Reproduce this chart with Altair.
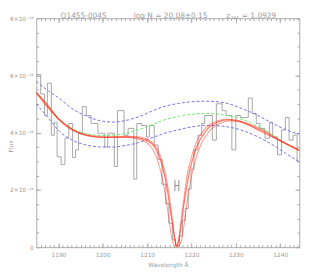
import altair as alt
import pandas as pd

# ---------------- data (flux in units of 1e-16) ----------------
hist_edges = [1185.0, 1186.0, 1186.87, 1187.5, 1188.4, 1189.06, 1189.7, 1190.6, 1191.47, 1192.34,
              1193.2, 1193.87, 1194.53, 1195.4, 1196.28, 1197.37, 1198.9, 1200.44, 1201.1, 1202.6,
              1203.3, 1204.8, 1205.7, 1207.0, 1207.66, 1208.75, 1209.85, 1210.5, 1211.6, 1212.47,
              1213.35, 1214.2, 1214.9, 1215.77, 1216.4, 1217.3, 1217.96, 1218.6, 1219.26, 1219.9,
              1220.57, 1221.45, 1222.3, 1222.97, 1224.7, 1225.6, 1226.9, 1227.8, 1229.1, 1229.97,
              1231.05, 1232.8, 1233.7, 1234.6, 1235.45, 1236.55, 1237.6, 1238.3, 1239.4, 1240.3,
              1241.16, 1242.0, 1242.9, 1243.8, 1244.3]
hist_flux = [6.03, 5.35, 4.6, 5.73, 3.91, 4.36, 3.16, 2.89, 3.81, 4.32,
             3.13, 3.40, 3.98, 4.91, 4.6, 4.32, 3.98, 3.5, 3.98, 2.82,
             4.77, 3.91, 4.15, 2.38, 4.32, 4.25, 3.85, 4.25, 3.57, 3.06,
             2.2, 1.52, 0.84, 0.26, 0.05, 0.39, 0.94, 1.35, 2.03, 2.72,
             3.4, 3.91, 4.32, 4.6, 3.74, 5.01, 4.77, 4.6, 3.4, 4.6,
             4.53, 5.21, 4.67, 4.32, 4.15, 3.81, 4.36, 3.85, 3.23, 4.09,
             4.53, 3.74, 3.91, 2.99]

cont_lambda = [1185.0, 1187.5, 1190.0, 1192.5, 1195.0, 1197.5, 1200.0, 1202.5, 1205.0, 1208.0, 1211.0,
               1214.0, 1217.0, 1220.0, 1223.0, 1226.0, 1229.0, 1232.0, 1235.0, 1238.0, 1241.0, 1244.3]
cont_flux = [5.42, 5.0, 4.5, 4.2, 4.02, 3.93, 3.9, 3.92, 3.97, 4.1, 4.27,
             4.45, 4.57, 4.64, 4.67, 4.65, 4.57, 4.43, 4.22, 3.95, 3.66, 3.4]

err_lambda = [1185.0, 1187.8, 1190.2, 1193.0, 1196.0, 1200.0, 1202.5, 1205.0, 1208.0, 1211.0, 1214.0,
              1217.0, 1220.0, 1223.0, 1226.0, 1229.0, 1232.0, 1235.0, 1238.0, 1241.0, 1244.3]
err_upper = [5.8, 5.45, 5.2, 4.85, 4.6, 4.4, 4.37, 4.42, 4.55, 4.75, 4.92,
             5.02, 5.08, 5.1, 5.08, 4.98, 4.8, 4.6, 4.35, 4.12, 3.95]
err_lower = [5.0, 4.5, 4.05, 3.75, 3.58, 3.5, 3.5, 3.55, 3.65, 3.82, 3.98,
             4.1, 4.2, 4.25, 4.24, 4.18, 4.05, 3.85, 3.6, 3.3, 2.98]

fit_lambda = [1185.0, 1187.5, 1190.0, 1192.5, 1195.0, 1197.5, 1200.0, 1202.5, 1205.0, 1207.5,
              1209.5, 1211.0, 1212.0, 1213.0, 1213.8, 1214.5, 1215.2, 1215.8, 1216.3, 1216.7,
              1217.1, 1217.6, 1218.2, 1218.9, 1219.7, 1220.5, 1221.5, 1222.5, 1224.0, 1226.0,
              1228.0, 1230.0, 1232.5, 1235.0, 1237.5, 1240.0, 1242.5, 1244.3]
fit_flux = [5.40, 4.98, 4.48, 4.16, 3.97, 3.87, 3.84, 3.84, 3.85, 3.83,
            3.76, 3.62, 3.42, 3.05, 2.6, 2.05, 1.35, 0.7, 0.2, 0.02,
            0.2, 0.7, 1.4, 2.1, 2.75, 3.2, 3.62, 3.9, 4.2, 4.38,
            4.45, 4.42, 4.3, 4.1, 3.9, 3.72, 3.52, 3.38]

wide_lambda = [1185.0, 1190.0, 1195.0, 1200.0, 1205.0, 1208.0, 1209.5, 1210.6, 1211.5, 1212.4,
               1213.2, 1213.9, 1214.6, 1215.2, 1215.7, 1216.3, 1216.7, 1217.1, 1217.7, 1218.2,
               1218.8, 1219.5, 1220.3, 1221.1, 1222.1, 1223.1, 1224.6, 1226.5, 1228.5, 1230.0,
               1233.0, 1236.0, 1240.0, 1244.3]
wide_flux = [5.40, 4.48, 3.96, 3.83, 3.83, 3.78, 3.70, 3.55, 3.35, 3.0,
             2.55, 2.0, 1.3, 0.65, 0.2, 0.03, 0.0, 0.03, 0.2, 0.65,
             1.35, 2.05, 2.7, 3.15, 3.58, 3.85, 4.15, 4.33, 4.41, 4.4,
             4.27, 4.07, 3.71, 3.38]

narrow_lambda = [1185.0, 1190.0, 1195.0, 1200.0, 1205.0, 1208.5, 1210.0, 1211.4, 1212.5, 1213.4,
                 1214.2, 1214.9, 1215.5, 1216.0, 1216.4, 1216.7, 1217.0, 1217.4, 1217.9, 1218.5,
                 1219.1, 1219.9, 1220.7, 1221.7, 1222.8, 1224.2, 1226.0, 1228.0, 1230.0, 1233.0,
                 1236.0, 1240.0, 1244.3]
narrow_flux = [5.40, 4.49, 3.98, 3.86, 3.87, 3.85, 3.78, 3.62, 3.38, 3.0,
               2.5, 1.9, 1.2, 0.6, 0.2, 0.06, 0.2, 0.6, 1.25, 1.95,
               2.6, 3.1, 3.5, 3.85, 4.1, 4.3, 4.42, 4.47, 4.44, 4.3,
               4.1, 3.73, 3.39]

bar_lambda = [1216.7]
bar_flux = [2.15]
bar_sigma = [0.19]

x_major = [1190, 1200, 1210, 1220, 1230, 1240]
x_minor = list(range(1186, 1245))
y_major = [0, 2, 4, 6, 8]
y_minor = [i * 0.5 for i in range(17)]

title_name = "Q1455-0045"
title_col = "log N = 20.08\u00b10.15"
title_z = ["z", "abs", "= 1.0929"]

X_DOMAIN = [1185.0, 1244.3]
Y_DOMAIN = [0, 8]

# ---------------- style ----------------
TXT = "#9c9c9c"
AXC = "#ababab"
FONT = "DejaVu Sans"
FITC = "#ff2a12"

xs = alt.Scale(domain=X_DOMAIN, nice=False, zero=False)
ys = alt.Scale(domain=Y_DOMAIN, nice=False, zero=False)


def ax(**kw):
    base = dict(domain=False, grid=False, labels=False, ticks=False, title=None)
    base.update(kw)
    return alt.Axis(**base)


def tick_axis(values, size, orient):
    return ax(ticks=True, tickSize=size, offset=-size, values=values, orient=orient,
              tickColor=AXC, tickWidth=1)


hist_df = pd.DataFrame({"lam": hist_edges, "flux": hist_flux + [hist_flux[-1]]})
cont_df = pd.DataFrame({"lam": cont_lambda, "flux": cont_flux})
up_df = pd.DataFrame({"lam": err_lambda, "flux": err_upper})
lo_df = pd.DataFrame({"lam": err_lambda, "flux": err_lower})
fit_df = pd.DataFrame({"lam": fit_lambda, "flux": fit_flux})
wide_df = pd.DataFrame({"lam": wide_lambda, "flux": wide_flux})
nar_df = pd.DataFrame({"lam": narrow_lambda, "flux": narrow_flux})
bar_df = pd.DataFrame({"lam": bar_lambda, "flux": bar_flux,
                       "lo": [f - s for f, s in zip(bar_flux, bar_sigma)],
                       "hi": [f + s for f, s in zip(bar_flux, bar_sigma)]})

x_lab_axis = ax(labels=True, values=x_major, orient="bottom", tickSize=0, labelPadding=5,
                format="d",
                labelFont=FONT, labelFontSize=6, labelColor=TXT,
                title="Wavelength \u00c5", titleFont=FONT, titleFontSize=6, titleColor=TXT,
                titleFontWeight="normal", titleX=135, titleY=19.5, titleBaseline="alphabetic")
y_lab_axis = ax(labels=True, values=y_major, orient="left", tickSize=0, labelPadding=3,
                labelFont=FONT, labelFontSize=6, labelColor=TXT,
                labelExpr="datum.value == 0 ? '0' : datum.value + '\u00d710\u207b\u00b9\u2076'",
                title="Flux", titleFont=FONT, titleFontSize=6, titleColor=TXT,
                titleFontWeight="normal", titleAngle=270, titleX=-26, titleY=131,
                titleAlign="center", titleBaseline="middle")

hist = alt.Chart(hist_df).mark_line(interpolate="step-after", color="#a6a6a6", strokeWidth=1, clip=True).encode(
    x=alt.X("lam:Q", scale=xs, axis=x_lab_axis),
    y=alt.Y("flux:Q", scale=ys, axis=y_lab_axis),
)

cont = alt.Chart(cont_df).mark_line(interpolate="monotone", color="#66ee66", strokeWidth=1,
                                    strokeDash=[3, 2], clip=True).encode(
    x=alt.X("lam:Q", scale=xs, axis=tick_axis(x_major, 4.5, "bottom")),
    y=alt.Y("flux:Q", scale=ys, axis=tick_axis(y_major, 4.5, "left")),
)

upper = alt.Chart(up_df).mark_line(interpolate="monotone", color="#7070ee", strokeWidth=1,
                                   strokeDash=[3, 2], clip=True).encode(
    x=alt.X("lam:Q", scale=xs, axis=tick_axis(x_minor, 2.5, "bottom")),
    y=alt.Y("flux:Q", scale=ys, axis=tick_axis(y_minor, 2.5, "left")),
)

lower = alt.Chart(lo_df).mark_line(interpolate="monotone", color="#7070ee", strokeWidth=1,
                                   strokeDash=[3, 2], clip=True).encode(
    x=alt.X("lam:Q", scale=xs, axis=tick_axis(x_major, 4.5, "top")),
    y=alt.Y("flux:Q", scale=ys, axis=tick_axis(y_major, 4.5, "right")),
)

wide = alt.Chart(wide_df).mark_line(interpolate="monotone", color=FITC, opacity=0.45,
                                    strokeWidth=1.1, clip=True).encode(
    x=alt.X("lam:Q", scale=xs, axis=tick_axis(x_minor, 2.5, "top")),
    y=alt.Y("flux:Q", scale=ys, axis=tick_axis(y_minor, 2.5, "right")),
)

narrow = alt.Chart(nar_df).mark_line(interpolate="monotone", color=FITC, opacity=0.45,
                                     strokeWidth=1.1, clip=True).encode(
    x=alt.X("lam:Q", scale=xs, axis=None),
    y=alt.Y("flux:Q", scale=ys, axis=None),
)

fit = alt.Chart(fit_df).mark_line(interpolate="monotone", color=FITC, opacity=0.6,
                                  strokeWidth=1.3, clip=True).encode(
    x=alt.X("lam:Q", scale=xs, axis=None),
    y=alt.Y("flux:Q", scale=ys, axis=None),
)

bar_l = alt.Chart(bar_df).mark_rule(color="#8c8c8c", strokeWidth=1, xOffset=-2).encode(
    x=alt.X("lam:Q", scale=xs, axis=None), y=alt.Y("lo:Q", scale=ys, axis=None), y2="hi:Q")
bar_r = alt.Chart(bar_df).mark_rule(color="#8c8c8c", strokeWidth=1, xOffset=2).encode(
    x=alt.X("lam:Q", scale=xs, axis=None), y=alt.Y("lo:Q", scale=ys, axis=None), y2="hi:Q")
bar_m = alt.Chart(bar_df).mark_rule(color="#8c8c8c", strokeWidth=1, xOffset=-2, x2Offset=2).encode(
    x=alt.X("lam:Q", scale=xs, axis=None), x2="lam:Q", y=alt.Y("flux:Q", scale=ys, axis=None))


def title_text(txt, xpos, ypos, size):
    return alt.Chart(pd.DataFrame({"t": [txt]})).mark_text(
        font=FONT, fontSize=size, color=TXT, align="left", baseline="alphabetic"
    ).encode(text="t:N", x=alt.value(xpos), y=alt.value(ypos))


titles = [
    title_text(title_name, 25, -0.5, 7.6),
    title_text(title_col, 100, -0.5, 7.6),
    title_text(title_z[0], 195, -0.5, 7.6),
    title_text(title_z[1], 200, 1.0, 4.5),
    title_text(title_z[2], 211, -0.5, 7.6),
]

chart = alt.layer(hist, cont, upper, lower, wide, narrow, fit, bar_l, bar_r, bar_m, *titles).resolve_axis(
    x="independent", y="independent"
).properties(
    width=270, height=235,
    autosize=alt.AutoSizeParams(type="none"),
    padding={"left": 29, "top": 7, "right": 12, "bottom": 21},
).configure_view(stroke=AXC, strokeWidth=1)

chart.save("out.html", embed_options={"renderer": "svg", "actions": False})
